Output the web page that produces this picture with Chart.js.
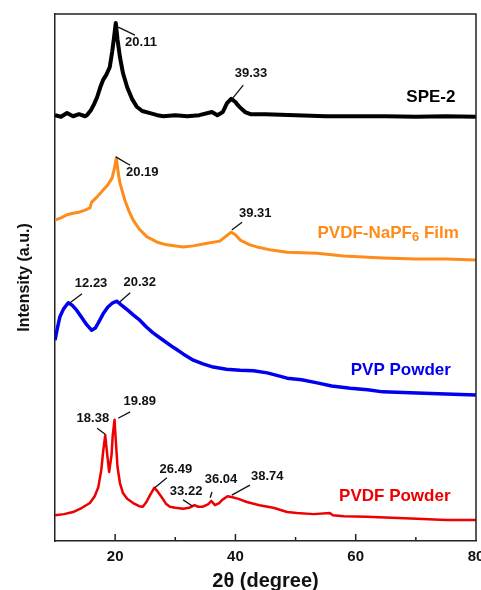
<!DOCTYPE html>
<html>
<head>
<meta charset="utf-8">
<script src="https://cdn.jsdelivr.net/npm/chart.js@4"></script>
<style>
html, body { margin: 0; padding: 0; background: #fff; }
</style>
</head>
<body>
<canvas id="xrd" width="481" height="590"></canvas>
<script>
// XRD patterns, stacked with offsets (arbitrary units)

// SPE-2 (black)
const spe2X = [10, 11, 12, 13, 14, 15, 15.3, 16, 16.5, 17, 17.5, 18, 18.5, 19.1, 19.5, 19.8, 20.1, 20.4, 20.8, 21.3, 22, 22.8, 23.6, 24.5, 25.8, 27, 28, 30, 32, 34, 36.1, 37, 37.9, 38.6, 39.3, 40, 40.4, 41, 41.6, 42.5, 45, 50, 55, 60, 65, 70, 75, 80];
const spe2Y = [80.8, 80.5, 81.2, 80.6, 81.0, 80.6, 80.8, 81.8, 82.9, 84.2, 86.0, 87.5, 88.4, 89.9, 92.8, 95.4, 98.3, 95.1, 91.8, 88.8, 86.1, 83.9, 82.4, 81.6, 81.2, 80.8, 80.6, 80.8, 80.6, 80.8, 81.4, 80.8, 81.4, 83.1, 83.9, 83.3, 82.7, 82.0, 81.4, 81.0, 81.0, 80.8, 80.6, 80.6, 80.6, 80.5, 80.6, 80.5];

// PVDF-NaPF6 film (orange)
const filmX = [10, 11, 12, 13, 14, 15, 15.8, 16.1, 17, 18, 18.8, 19.5, 19.9, 20.2, 20.5, 20.8, 21.6, 22.3, 23, 24, 25.3, 27, 28.6, 31.3, 33, 35.3, 37.4, 38.5, 39.3, 40, 40.8, 42.4, 43.6, 46, 48.6, 53.6, 58, 64.5, 70, 75, 80];
const filmY = [60.9, 61.3, 61.9, 62.2, 62.4, 62.8, 63.2, 64.3, 65.3, 66.6, 67.6, 68.9, 70.8, 72.7, 70.0, 67.9, 64.7, 62.6, 60.9, 59.2, 57.7, 56.7, 56.2, 55.8, 56.0, 56.5, 56.9, 57.9, 58.6, 58.1, 57.1, 56.2, 55.8, 55.2, 54.8, 54.6, 54.1, 53.7, 53.5, 53.5, 53.3];

// PVP powder (blue)
const pvpX = [10, 10.4, 10.8, 11.4, 12.2, 12.8, 13.6, 14.5, 15.3, 16.1, 16.7, 17.2, 18, 18.8, 19.6, 20.3, 21, 22.1, 23, 24.1, 25.2, 26.3, 28, 29.6, 31.3, 33, 34.6, 36.3, 38.5, 40.8, 43, 45.3, 48.6, 51, 53.6, 56, 59.1, 62, 64.5, 70.2, 75, 80];
const pvpY = [38.1, 40.4, 42.5, 44.0, 45.2, 44.8, 43.8, 42.3, 41.0, 40.0, 40.4, 41.4, 43.1, 44.4, 45.2, 45.5, 44.8, 43.8, 42.9, 41.9, 40.6, 39.5, 38.1, 36.8, 35.5, 34.3, 33.6, 33.0, 32.6, 32.4, 32.3, 31.9, 30.9, 30.6, 30.0, 29.4, 29.0, 28.7, 28.3, 28.1, 27.9, 27.7];

// PVDF powder (red)
const pvdfX = [10, 11.5, 13, 14.5, 15.8, 16.6, 17.2, 17.7, 18, 18.35, 18.6, 19, 19.4, 19.6, 19.9, 20.1, 20.4, 20.8, 21.3, 22, 23, 24, 24.6, 25.2, 25.8, 26.5, 27, 27.8, 28.5, 29.1, 30, 31.3, 32.3, 33.2, 33.8, 34.6, 35.5, 36, 36.6, 37.3, 37.8, 38.7, 39.5, 40.5, 41.9, 44, 46.3, 48.6, 50.2, 53, 55.7, 56.2, 58, 61.8, 66, 70.2, 75, 80];
const pvdfY = [4.9, 5.1, 5.5, 6.3, 7.2, 8.5, 10.2, 13.5, 16.9, 20.1, 17.3, 13.1, 16.3, 20.1, 23.0, 19.2, 14.0, 11.0, 9.1, 8.0, 7.2, 6.6, 6.5, 7.4, 8.7, 10.1, 9.5, 8.2, 7.0, 6.5, 6.3, 6.1, 6.3, 6.8, 6.5, 6.5, 7.0, 7.6, 6.8, 7.2, 7.8, 8.5, 8.3, 8.0, 7.4, 6.8, 6.3, 5.5, 5.3, 5.1, 5.3, 4.9, 4.7, 4.6, 4.4, 4.2, 4.0, 4.0];

const seriesNames = ['SPE-2', 'PVDF-NaPF_6 Film', 'PVP Powder', 'PVDF Powder'];
const nameAt = [[72.5, 84.2], [65.4, 58.4], [67.5, 32.3], [66.5, 8.5]];

// peak labels: text, leader line (from, to) and text centre, all in data units
const peakText = ['20.11', '39.33', '20.19', '39.31', '12.23', '20.32', '18.38', '19.89', '26.49', '33.22', '36.04', '38.74'];
const leaderFrom = [[20.5, 97.5], [39.6, 84.1], [20.1, 72.9], [39.4, 59.0], [12.5, 45.2], [20.8, 45.4], [17.0, 21.4], [20.5, 23.3], [26.6, 10.1], [31.3, 7.8], [36.1, 9.3], [39.4, 8.7]];
const leaderTo = [[23.3, 96.0], [41.3, 86.5], [22.5, 71.3], [41.1, 60.5], [14.5, 46.9], [22.5, 47.1], [18.3, 20.3], [22.5, 24.5], [28.6, 12.0], [32.9, 6.6], [35.8, 8.2], [42.4, 10.6]];
const textAt = [[24.3, 94.7], [42.6, 88.8], [24.5, 70.0], [43.3, 62.2], [16.0, 48.8], [24.1, 49.0], [16.3, 23.3], [24.1, 26.4], [30.1, 13.5], [31.8, 9.5], [37.6, 11.6], [45.3, 12.3]];

const colors = ['#000000', '#FF8C1A', '#0000EE', '#EE0000'];
const widths = [4, 3, 3.5, 2.5];

const FONT = "'Liberation Sans', Arial, sans-serif";
Chart.defaults.font.family = FONT;
Chart.defaults.color = '#111';

function toPoints(xs, ys) {
    return xs.map((x, i) => ({ x: x, y: ys[i] }));
}

const allX = [spe2X, filmX, pvpX, pvdfX];
const allY = [spe2Y, filmY, pvpY, pvdfY];

// draws "abc_6 def" with the digit after _ as a subscript
function drawSubText(ctx, text, cx, cy, size) {
    const parts = text.split(/_(\d)/);
    const big = `bold ${size}px ${FONT}`;
    const small = `bold ${Math.round(size * 0.75)}px ${FONT}`;
    let total = 0;
    parts.forEach((p, i) => {
        ctx.font = i % 2 ? small : big;
        total += ctx.measureText(p).width;
    });
    let x = cx - total / 2;
    ctx.textAlign = 'left';
    ctx.textBaseline = 'middle';
    parts.forEach((p, i) => {
        ctx.font = i % 2 ? small : big;
        ctx.fillText(p, x, i % 2 ? cy + 4 : cy);
        x += ctx.measureText(p).width;
    });
}

const labelsPlugin = {
    id: 'labelsPlugin',
    afterDatasetsDraw(chart) {
        const { ctx, scales: { x, y } } = chart;
        ctx.save();
        // leader lines + peak values
        ctx.strokeStyle = '#111';
        ctx.lineWidth = 1.3;
        ctx.fillStyle = '#111';
        ctx.font = `bold 13px ${FONT}`;
        ctx.textAlign = 'center';
        ctx.textBaseline = 'middle';
        peakText.forEach((t, i) => {
            ctx.beginPath();
            ctx.moveTo(x.getPixelForValue(leaderFrom[i][0]), y.getPixelForValue(leaderFrom[i][1]));
            ctx.lineTo(x.getPixelForValue(leaderTo[i][0]), y.getPixelForValue(leaderTo[i][1]));
            ctx.stroke();
            ctx.fillText(t, x.getPixelForValue(textAt[i][0]), y.getPixelForValue(textAt[i][1]));
        });
        // sample names
        seriesNames.forEach((n, i) => {
            ctx.fillStyle = colors[i];
            drawSubText(ctx, n, x.getPixelForValue(nameAt[i][0]), y.getPixelForValue(nameAt[i][1]), 17);
        });
        ctx.restore();
    }
};

const framePlugin = {
    id: 'framePlugin',
    afterDraw(chart) {
        const { ctx, chartArea: a, scales: { x } } = chart;
        ctx.save();
        ctx.strokeStyle = '#222';
        ctx.lineWidth = 1.5;
        ctx.beginPath();
        ctx.moveTo(a.left, a.top);
        ctx.lineTo(a.right, a.top);
        ctx.lineTo(a.right, a.bottom);
        ctx.stroke();
        // inward tick marks
        x.ticks.forEach(t => {
            if (t.value <= x.min || t.value >= x.max) return;
            const px = x.getPixelForValue(t.value);
            const len = t.value % 20 === 0 ? 7 : 4;
            ctx.beginPath();
            ctx.moveTo(px, a.bottom);
            ctx.lineTo(px, a.bottom - len);
            ctx.stroke();
        });
        ctx.restore();
    }
};

new Chart(document.getElementById('xrd'), {
    type: 'line',
    data: {
        datasets: seriesNames.map((n, i) => ({
            label: n.replace('_', ''),
            data: toPoints(allX[i], allY[i]),
            borderColor: colors[i],
            borderWidth: widths[i],
            borderJoinStyle: 'round',
            pointRadius: 0,
            tension: 0,
            fill: false
        }))
    },
    options: {
        responsive: false,
        animation: false,
        layout: { padding: { left: 0, right: 5, top: 14, bottom: 0 } },
        plugins: {
            legend: { display: false },
            tooltip: { enabled: false }
        },
        scales: {
            x: {
                type: 'linear',
                min: 10,
                max: 80,
                grid: { display: false, drawTicks: false },
                border: { display: true, color: '#222', width: 1.5 },
                ticks: {
                    stepSize: 10,
                    autoSkip: false,
                    maxRotation: 0,
                    padding: 7,
                    color: '#111',
                    font: { size: 15, weight: 'bold' },
                    callback: v => (v % 20 === 0 && v > 10) ? v : ''
                },
                title: {
                    display: true,
                    text: '2θ (degree)',
                    color: '#111',
                    font: { size: 20, weight: 'bold' },
                    padding: { top: 0, bottom: -3 }
                },
                afterFit(scale) {
                    scale.height = 49;
                    scale.paddingLeft = 0;
                    scale.paddingRight = 0;
                }
            },
            y: {
                min: 0,
                max: 100,
                grid: { display: false, drawTicks: false },
                border: { display: true, color: '#222', width: 1.5 },
                ticks: { display: false },
                title: {
                    display: true,
                    text: 'Intensity (a.u.)',
                    color: '#111',
                    font: { size: 16, weight: 'bold' },
                    padding: { top: 15, bottom: 0 }
                },
                afterFit(scale) {
                    scale.width = 55;
                }
            }
        }
    },
    plugins: [labelsPlugin, framePlugin]
});
</script>
</body>
</html>
